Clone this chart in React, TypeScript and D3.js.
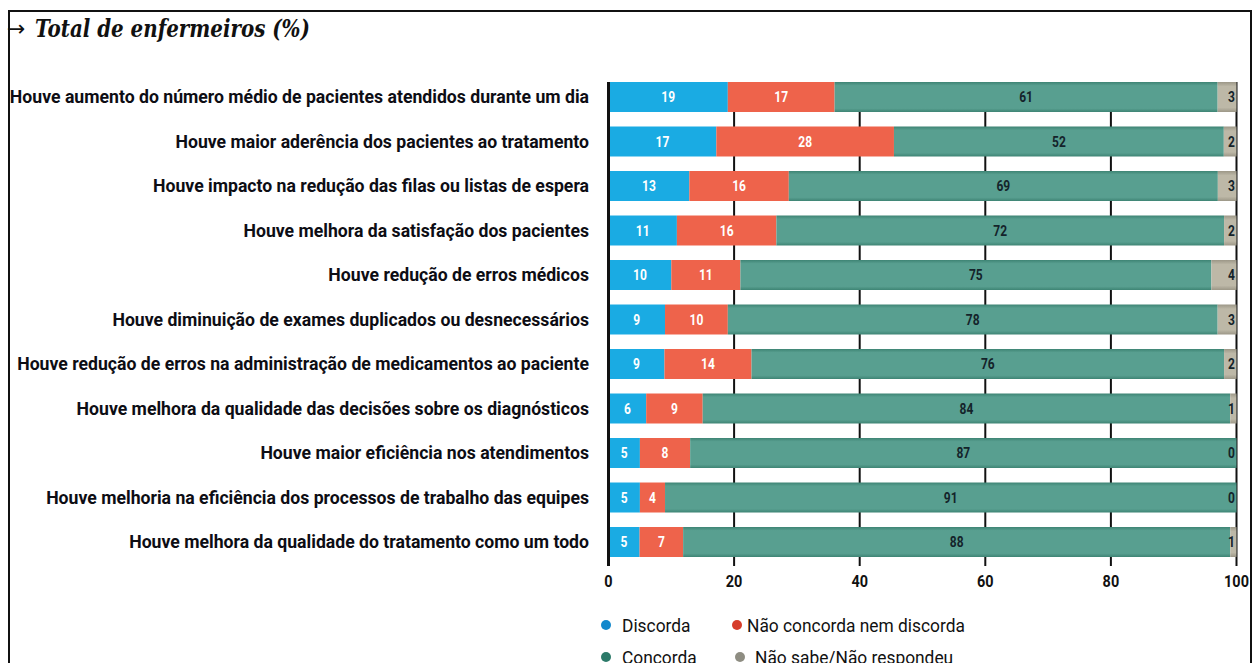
import React, { useLayoutEffect, useRef, useState } from "react";
import * as d3 from "d3";

const categories = [
  "Houve aumento do número médio de pacientes atendidos durante um dia",
  "Houve maior aderência dos pacientes ao tratamento",
  "Houve impacto na redução das filas ou listas de espera",
  "Houve melhora da satisfação dos pacientes",
  "Houve redução de erros médicos",
  "Houve diminuição de exames duplicados ou desnecessários",
  "Houve redução de erros na administração de medicamentos ao paciente",
  "Houve melhora da qualidade das decisões sobre os diagnósticos",
  "Houve maior eficiência nos atendimentos",
  "Houve melhoria na eficiência dos processos de trabalho das equipes",
  "Houve melhora da qualidade do tratamento como um todo",
];
const discorda = [19, 17, 13, 11, 10, 9, 9, 6, 5, 5, 5];
const neutro = [17, 28, 16, 16, 11, 10, 14, 9, 8, 4, 7];
const concorda = [61, 52, 69, 72, 75, 78, 76, 84, 87, 91, 88];
const naoSabe = [3, 2, 3, 2, 4, 3, 2, 1, 0, 0, 1];
const xTicks = [0, 20, 40, 60, 80, 100];
const seriesNames = ["Discorda", "Não concorda nem discorda", "Concorda", "Não sabe/Não respondeu"];
const titleText = "Total de enfermeiros (%)";

const W = 1256;
const H = 663;
const FONT = "Roboto, 'Liberation Sans', sans-serif";

export default function App() {
  const catRef = useRef<SVGTextElement | null>(null);
  const legRef = useRef<SVGTextElement | null>(null);
  const titleRef = useRef<SVGTextElement | null>(null);
  const [kCat, setKCat] = useState(0.85);
  const [kLeg, setKLeg] = useState(0.85);
  const [kTitle, setKTitle] = useState(1);

  useLayoutEffect(() => {
    if (catRef.current) {
      const w = catRef.current.getComputedTextLength();
      if (w > 0) setKCat(579 / w);
    }
    if (legRef.current) {
      const w = legRef.current.getComputedTextLength();
      if (w > 0) setKLeg(218 / w);
    }
    if (titleRef.current) {
      const w = titleRef.current.getComputedTextLength();
      if (w > 0) setKTitle(275 / w);
    }
  }, []);

  const x = d3.scaleLinear().domain([0, 100]).range([608.5, 1236.5]);
  const y = d3.scaleBand<string>().domain(categories).range([82, 557]).paddingInner(0.326).paddingOuter(0);
  const bw = y.bandwidth();

  const rows = categories.map((c, i) => {
    const total = discorda[i] + neutro[i] + concorda[i] + naoSabe[i];
    const f = 100 / total;
    return {
      cat: c,
      d: discorda[i] * f,
      n: neutro[i] * f,
      c: concorda[i] * f,
      s: naoSabe[i] * f,
    };
  });
  const rawValues = [discorda, neutro, concorda, naoSabe];
  const stack = d3.stack<any>().keys(["d", "n", "c", "s"]);
  const stacked = stack(rows);

  const fills = ["#1aabe3", "#ee634b", "url(#gTeal)", "url(#gGray)"];
  const legendColors = ["#1288cc", "#d63c2a", "#2c7a69", "#8e8d82"];
  const labelColors = ["#ffffff", "#ffffff", "#14232a", "#14232a"];

  const gridTop = 82;
  const gridBottom = 566;
  const kVal = 0.8;
  const kTick = 0.85;

  return (
    <svg width={W} height={H} style={{ position: "absolute", left: 0, top: 0 }}>
      <defs>
        <linearGradient id="gTeal" x1="0" y1="0" x2="0" y2="1">
          <stop offset="0" stopColor="#3e8474" />
          <stop offset="0.12" stopColor="#589f90" />
          <stop offset="0.88" stopColor="#589f90" />
          <stop offset="1" stopColor="#3e8474" />
        </linearGradient>
        <linearGradient id="gGray" x1="0" y1="0" x2="0" y2="1">
          <stop offset="0" stopColor="#9c9787" />
          <stop offset="0.15" stopColor="#bdb8a7" />
          <stop offset="0.85" stopColor="#bdb8a7" />
          <stop offset="1" stopColor="#9c9787" />
        </linearGradient>
      </defs>
      <rect x={0} y={0} width={W} height={H} fill="#ffffff" />
      {/* frame */}
      <path d={`M9,${H} L9,11 L1251,11 L1251,${H}`} fill="none" stroke="#111" strokeWidth={2} />
      {/* title */}
      <text x={7} y={36} fontFamily="'Noto Sans', 'DejaVu Sans', sans-serif" fontSize={22} fill="#111">→</text>
      <g transform={`translate(35,0) scale(${kTitle},1)`}>
        <text ref={titleRef} x={0} y={37} fontFamily="'DejaVu Serif', 'Liberation Serif', serif" fontStyle="italic" fontWeight="bold" fontSize={25} fill="#111">
          {titleText}
        </text>
      </g>

      {/* gridlines */}
      {xTicks.slice(1).map((t) => (
        <line key={t} x1={x(t)} x2={x(t)} y1={gridTop} y2={gridBottom} stroke="#111" strokeWidth={2} />
      ))}

      {/* bars */}
      {stacked.map((layer, li) => (
        <g key={li}>
          {layer.map((seg, i) => {
            const w = x(seg[1]) - x(seg[0]);
            if (w <= 0.01) return null;
            return <rect key={i} x={x(seg[0])} y={y(categories[i])} width={w} height={bw} fill={fills[li]} />;
          })}
        </g>
      ))}

      {/* axis line at 0 */}
      <line x1={x(0)} x2={x(0)} y1={gridTop} y2={gridBottom} stroke="#111" strokeWidth={3} />

      {/* value labels */}
      {stacked.map((layer, li) => (
        <g key={"l" + li}>
          {layer.map((seg, i) => {
            const cy = (y(categories[i]) as number) + bw / 2;
            const cx = li === 3 ? x(100) - 1.5 : (x(seg[0]) + x(seg[1])) / 2;
            return (
              <g key={i} transform={`translate(${cx},${cy}) scale(${kVal},1)`}>
                <text
                  x={0}
                  y={0}
                  dy="0.36em"
                  textAnchor={li === 3 ? "end" : "middle"}
                  fontFamily={FONT}
                  fontWeight="bold"
                  fontSize={15}
                  fill={labelColors[li]}
                >
                  {rawValues[li][i]}
                </text>
              </g>
            );
          })}
        </g>
      ))}

      {/* category labels */}
      <g transform={`translate(589,0) scale(${kCat},1)`}>
        {categories.map((c, i) => (
          <text
            key={c}
            ref={i === 0 ? catRef : undefined}
            x={0}
            y={(y(c) as number) + bw / 2}
            dy="0.36em"
            textAnchor="end"
            fontFamily={FONT}
            fontWeight="bold"
            fontSize={18}
            fill="#0d0d14"
          >
            {c}
          </text>
        ))}
      </g>

      {/* x tick labels */}
      {xTicks.map((t) => (
        <g key={t} transform={`translate(${x(t)},581) scale(${kTick},1)`}>
          <text x={0} y={0} dy="0.36em" textAnchor="middle" fontFamily={FONT} fontWeight="bold" fontSize={17} fill="#111">
            {t}
          </text>
        </g>
      ))}

      {/* legend */}
      {seriesNames.map((name, i) => {
        const col = i % 2;
        const row = Math.floor(i / 2);
        const cx = col === 0 ? 606 : i === 1 ? 737 : 740;
        const tx = col === 0 ? 622 : i === 1 ? 747 : 755;
        const cy = row === 0 ? 625 : 657;
        return (
          <g key={name}>
            <circle cx={cx} cy={cy} r={5} fill={legendColors[i]} />
            <g transform={`translate(${tx},${cy}) scale(${kLeg},1)`}>
              <text ref={i === 1 ? legRef : undefined} x={0} y={0} dy="0.36em" fontFamily={FONT} fontSize={19} fill="#111">
                {name}
              </text>
            </g>
          </g>
        );
      })}
    </svg>
  );
}
